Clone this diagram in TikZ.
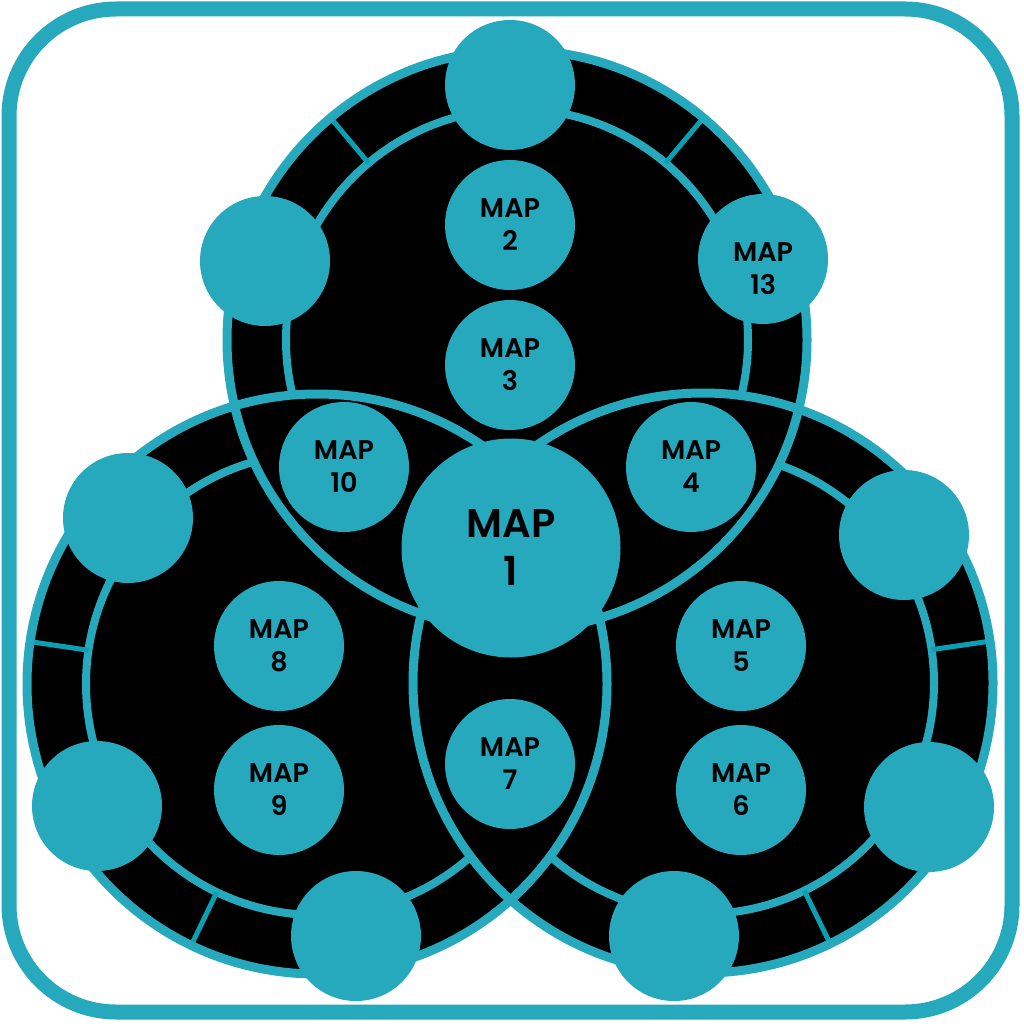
\documentclass[tikz,border=0pt]{standalone}
\usepackage{fontspec}
\setmainfont{Poppins}
\newfontfamily\mapfont{Poppins SemiBold}
\definecolor{tealA}{HTML}{26A9BC}
\definecolor{tealT}{HTML}{0A9FB2}
\begin{document}
\begin{tikzpicture}[x=1pt,y=-1pt,
  rim/.style={draw=tealA,line width=9pt},
  ringline/.style={draw=tealA,line width=8pt},
  tickline/.style={draw=tealT,line width=5pt},
  dot/.style={circle,fill=tealA,minimum size=130pt,inner sep=0pt},
  maptext/.style={align=center,text=black,inner sep=0pt,font=\fontsize{27}{33}\selectfont\mapfont},
  mapnode/.style={dot,maptext},
  bignode/.style={circle,fill=tealA,minimum size=219pt,inner sep=0pt,align=center,text=black,font=\fontsize{40}{48}\selectfont\mapfont}]
\useasboundingbox (0,0) rectangle (1024,1024);
\fill[white] (0,0) rectangle (1024,1024);
\draw[draw=tealA,line width=15pt,rounded corners=107pt] (9,9) rectangle (1012,1012);
% big circle centres
\coordinate (T) at (517,340);
\coordinate (L) at (317,684);
\coordinate (R) at (703,683);
% black discs
\fill[black] (T) circle[radius=290];
\fill[black] (L) circle[radius=290];
\fill[black] (R) circle[radius=290];
% inner rings
\draw[ringline] (T) circle[radius=231];
\draw[ringline] (L) circle[radius=231];
\draw[ringline] (R) circle[radius=231];
% ticks
\begin{scope}[shift={(T)}]
  \draw[tickline] (-130:231) -- (-130:290);
  \draw[tickline] (-50:231) -- (-50:290);
\end{scope}
\begin{scope}[shift={(L)}]
  \draw[tickline] (-171.6:231) -- (-171.6:290);
  \draw[tickline] (115.7:231) -- (115.7:290);
\end{scope}
\begin{scope}[shift={(R)}]
  \draw[tickline] (-8.3:231) -- (-8.3:290);
  \draw[tickline] (64:231) -- (64:290);
\end{scope}
% hide rings in overlaps
\begin{scope}
  \clip (T) circle[radius=290];
  \fill[black] (L) circle[radius=290];
  \fill[black] (R) circle[radius=290];
\end{scope}
\begin{scope}
  \clip (L) circle[radius=290];
  \fill[black] (R) circle[radius=290];
\end{scope}
% outlines
\draw[rim] (T) circle[radius=290];
\draw[rim] (L) circle[radius=290];
\draw[rim] (R) circle[radius=290];
% small ring circles
\node[dot] (t1) at (510,85) {};
\node[dot] (t2) at (265,261) {};
\node[dot] (l1) at (128,518) {};
\node[dot] (l2) at (97,806) {};
\node[dot] (l3) at (356,936) {};
\node[dot] (r1) at (904,535) {};
\node[dot] (r2) at (929,807) {};
\node[dot] (r3) at (674,936) {};
% map circles
\node[dot] (m13) at (763,259) {};
\node[maptext] (m13t) at (763,269) {MAP\\13};
\node[mapnode] (m2) at (510,225) {MAP\\2};
\node[mapnode] (m3) at (510,365) {MAP\\3};
\node[mapnode] (m10) at (344,467) {MAP\\10};
\node[mapnode] (m4) at (691,467) {MAP\\4};
\node[mapnode] (m8) at (279,646) {MAP\\8};
\node[mapnode] (m9) at (279,790) {MAP\\9};
\node[mapnode] (m7) at (510,764) {MAP\\7};
\node[mapnode] (m5) at (741,646) {MAP\\5};
\node[mapnode] (m6) at (741,790) {MAP\\6};
\node[bignode] (m1) at (511,548) {MAP\\1};
\end{tikzpicture}
\end{document}
